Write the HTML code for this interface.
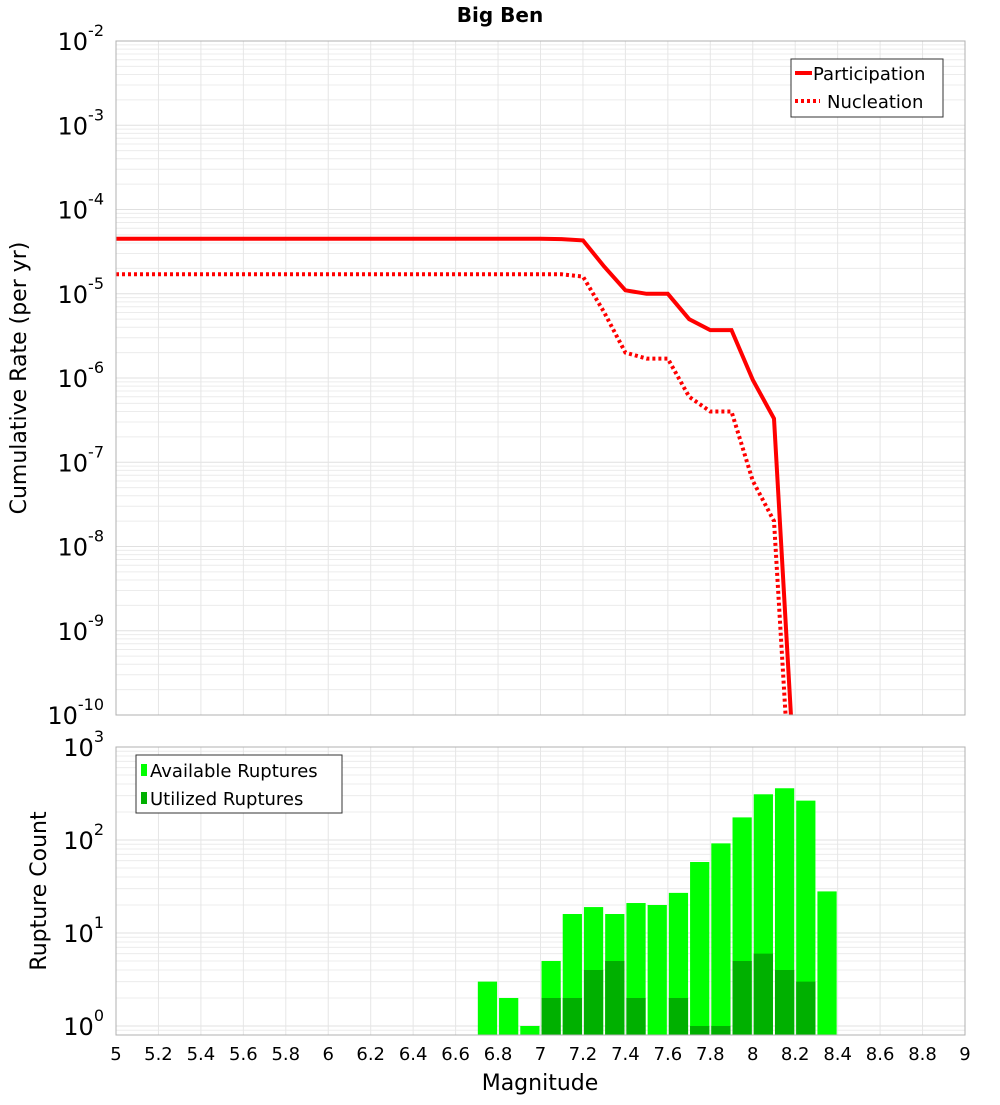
<!DOCTYPE html>
<html><head><meta charset="utf-8"><style>
body{margin:0;background:#fff}
svg{font-family:"DejaVu Sans","Liberation Sans",sans-serif}
</style></head><body>
<svg id="c" width="1000" height="1100" xmlns="http://www.w3.org/2000/svg">
<text x="500" y="22" text-anchor="middle" font-size="20" font-weight="bold">Big Ben</text>
<g id="gtop"></g>
<g id="gbot"></g>
<text x="540" y="1090" text-anchor="middle" font-size="22">Magnitude</text>
<text transform="translate(26,378) rotate(-90)" text-anchor="middle" font-size="22">Cumulative Rate (per yr)</text>
<text transform="translate(46,891) rotate(-90)" text-anchor="middle" font-size="22">Rupture Count</text>
</svg>
<script>
const mags=[5,5.1,5.2,5.3,5.4,5.5,5.6,5.7,5.8,5.9,6,6.1,6.2,6.3,6.4,6.5,6.6,6.7,6.8,6.9,7,7.1,7.2,7.3,7.4,7.5,7.6,7.7,7.8,7.9,8,8.1,8.2];
const participation=[4.5e-5,4.5e-5,4.5e-5,4.5e-5,4.5e-5,4.5e-5,4.5e-5,4.5e-5,4.5e-5,4.5e-5,4.5e-5,4.5e-5,4.5e-5,4.5e-5,4.5e-5,4.5e-5,4.5e-5,4.5e-5,4.5e-5,4.5e-5,4.5e-5,4.45e-5,4.3e-5,2.1e-5,1.1e-5,1.0e-5,1.0e-5,5e-6,3.7e-6,3.7e-6,9.5e-7,3.3e-7,1.3e-11];
const nucleation=[1.7e-5,1.7e-5,1.7e-5,1.7e-5,1.7e-5,1.7e-5,1.7e-5,1.7e-5,1.7e-5,1.7e-5,1.7e-5,1.7e-5,1.7e-5,1.7e-5,1.7e-5,1.7e-5,1.7e-5,1.7e-5,1.7e-5,1.7e-5,1.7e-5,1.7e-5,1.6e-5,6e-6,2e-6,1.7e-6,1.7e-6,6e-7,4e-7,4e-7,6e-8,2e-8,1.2e-12];
const binCenters=[6.75,6.85,6.95,7.05,7.15,7.25,7.35,7.45,7.55,7.65,7.75,7.85,7.95,8.05,8.15,8.25,8.35];
const available=[3,2,1,5,16,19,16,21,20,27,58,92,175,310,360,265,28];
const utilized=[0,0,0,2,2,4,5,2,0,2,1,1,5,6,4,3,0];
const xTicks=[5,5.2,5.4,5.6,5.8,6,6.2,6.4,6.6,6.8,7,7.2,7.4,7.6,7.8,8,8.2,8.4,8.6,8.8,9];
const rateExps=[-2,-3,-4,-5,-6,-7,-8,-9,-10];
const countExps=[3,2,1,0];

const NS="http://www.w3.org/2000/svg";
const L=116,R=965;
const X=m=>L+(m-5)/4*(R-L);
const T0=41,T1=715,yT=v=>T0+(-2-Math.log10(v))/8*(T1-T0);
const B0=747,B1=1035,bMin=Math.log10(0.8),bMax=3;
const yB=v=>B0+(bMax-Math.log10(v))/(bMax-bMin)*(B1-B0);
function el(p,t,a,txt){const e=document.createElementNS(NS,t);for(const k in a)e.setAttribute(k,a[k]);if(txt!==undefined)e.textContent=txt;p.appendChild(e);return e;}
const gTop=document.getElementById('gtop'),gBot=document.getElementById('gbot');
const defs=el(document.getElementById('c'),'defs',{});
const cp=el(defs,'clipPath',{id:'ct'});el(cp,'rect',{x:L,y:T0,width:R-L,height:T1-T0});

function grid(g,y0,y1,yf,lo,hi){
  for(let e=lo;e<hi;e++)for(let k=1;k<10;k++){const v=k*Math.pow(10,e);const y=yf(v);if(y<y0-0.5||y>y1+0.5)continue;
    const ln=el(g,'line',{x1:L,x2:R,y1:y,y2:y,stroke:k==1?'#e0e0e0':'#ececec','stroke-width':1});
    
    }
  xTicks.forEach(m=>{const ln=el(g,'line',{x1:X(m),x2:X(m),y1:y0,y2:y1,stroke:'#e6e6e6','stroke-width':1});
    
    });
}
grid(gTop,T0,T1,yT,-10,-2);
grid(gBot,B0,B1,yB,-1,3);

rateExps.forEach(e=>{const t=el(gTop,'text',{x:104,y:yT(Math.pow(10,e))+9,'text-anchor':'end','font-size':24});
  
  
  t.textContent='10';el(t,'tspan',{dy:-14,'font-size':16},String(e));});
countExps.forEach(e=>{const t=el(gBot,'text',{x:104,y:yB(Math.pow(10,e))+9,'text-anchor':'end','font-size':24});
  
  
  t.textContent='10';el(t,'tspan',{dy:-14,'font-size':16},String(e));});
xTicks.forEach(m=>{const t=el(gBot,'text',{x:X(m),y:1060,'text-anchor':'middle','font-size':18},String(Math.round(m*10)/10));
  
  });

function path(vals){return vals.map((v,i)=>(i?'L':'M')+X(mags[i]).toFixed(1)+','+yT(v).toFixed(1)).join('');}
const lg=el(gTop,'g',{'clip-path':'url(#ct)'});
const pn=el(lg,'path',{d:path(nucleation),fill:'none',stroke:'#ff0000','stroke-width':4,'stroke-dasharray':'3,3'});


const pp=el(lg,'path',{d:path(participation),fill:'none',stroke:'#ff0000','stroke-width':4});



const bw=(X(5.1)-X(5))-2;
binCenters.forEach((c,i)=>{
  const x=X(c)-bw/2;
  const b=el(gBot,'rect',{x:x,y:yB(available[i]),width:bw,height:B1-yB(available[i]),fill:'#00ff00'});
  
  
  if(utilized[i]>0){const u=el(gBot,'rect',{x:x,y:yB(utilized[i]),width:bw,height:B1-yB(utilized[i]),fill:'#00b000'});
    
    }
});

const f1=el(gTop,'rect',{x:L,y:T0,width:R-L,height:T1-T0,fill:'none',stroke:'#b0b0b0'});


const f2=el(gBot,'rect',{x:L,y:B0,width:R-L,height:B1-B0,fill:'none',stroke:'#b0b0b0'});



const lt=el(gTop,'g',{});


el(lt,'rect',{x:791,y:59,width:152,height:58,fill:'#fff',stroke:'#333'});
el(lt,'line',{x1:795,x2:812,y1:73,y2:73,stroke:'#f00','stroke-width':4});
el(lt,'text',{x:813,y:80,'font-size':18},'Participation');
el(lt,'line',{x1:795,x2:820,y1:101,y2:101,stroke:'#f00','stroke-width':4,'stroke-dasharray':'3,3'});
el(lt,'text',{x:827,y:108,'font-size':18},'Nucleation');
const lb=el(gBot,'g',{});


el(lb,'rect',{x:136,y:755,width:206,height:58,fill:'#fff',stroke:'#333'});
el(lb,'rect',{x:141,y:764,width:6,height:12,fill:'#00ff00'});
el(lb,'text',{x:150,y:777,'font-size':18},'Available Ruptures');
el(lb,'rect',{x:141,y:792,width:6,height:12,fill:'#00b000'});
el(lb,'text',{x:150,y:805,'font-size':18},'Utilized Ruptures');
</script>
</body></html>
